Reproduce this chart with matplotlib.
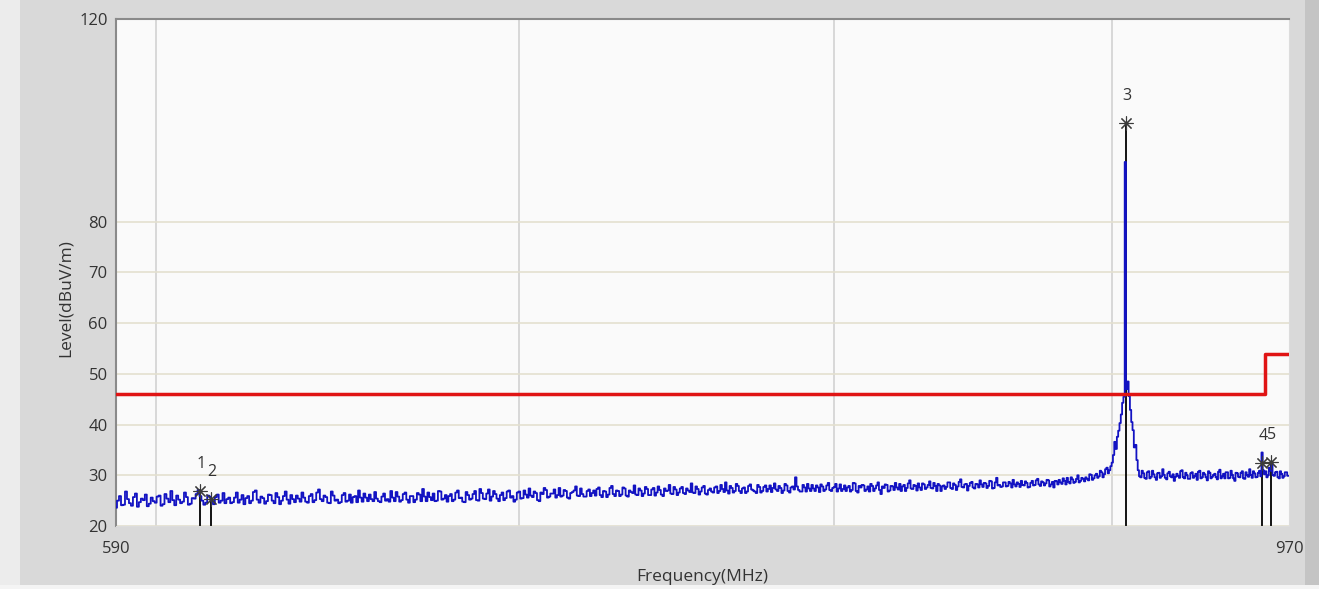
import numpy as np
import matplotlib.pyplot as plt
from matplotlib.ticker import FixedLocator, NullFormatter, FixedFormatter
from matplotlib.patches import Rectangle

plt.rcParams['font.family'] = ['Open Sans', 'DejaVu Sans']

# receiver sweep: readings on whole MHz (590..970) and on the half MHz between them
level = [
    23.6, 25.9, 24.2, 25.3, 24.0, 26.4, 24.7, 25.1, 23.9, 25.6,   # 590
    24.6, 26.0, 24.3, 25.4, 26.9, 24.1, 25.2, 24.8, 25.7, 24.4,   # 600
    25.4, 27.1, 25.0, 24.6, 25.8, 24.3, 26.2, 25.0, 24.5, 25.6,   # 610
    24.7, 26.6, 25.2, 24.3, 25.9, 25.0, 27.0, 24.6, 25.5, 24.9,   # 620
    26.1, 24.5, 25.7, 25.0, 26.8, 24.4, 25.3, 26.0, 24.8, 25.6,   # 630
    24.6, 26.3, 25.1, 27.2, 24.9, 25.7, 24.5, 26.0, 25.2, 24.7,   # 640
    26.5, 25.0, 24.6, 25.9, 27.0, 24.8, 25.6, 26.2, 24.9, 25.4,   # 650
    24.7, 26.4, 25.3, 26.9, 24.9, 25.8, 25.1, 26.6, 24.6, 25.9,   # 660
    25.2, 26.2, 27.3, 24.9, 25.7, 26.4, 25.0, 26.8, 25.4, 24.8,   # 670
    26.3, 25.2, 27.0, 25.6, 24.7, 26.1, 25.4, 26.9, 25.0, 26.5,   # 680
    25.3, 27.2, 25.8, 26.3, 24.9, 26.6, 25.5, 27.0, 25.9, 25.2,   # 690
    26.8, 25.5, 26.2, 27.4, 25.7, 26.5, 24.9, 26.3, 27.1, 25.8,   # 700
    26.4, 25.6, 27.5, 26.0, 26.9, 25.4, 26.7, 27.8, 25.9, 26.3,   # 710
    25.8, 27.2, 26.5, 26.0, 27.6, 25.7, 26.8, 26.2, 27.9, 25.9,   # 720
    26.9, 26.2, 27.4, 25.8, 26.7, 28.0, 26.1, 27.0, 26.4, 27.3,   # 730
    26.1, 27.5, 26.6, 27.1, 25.9, 26.9, 28.1, 26.3, 27.2, 26.6,   # 740
    27.7, 26.3, 27.0, 28.4, 26.5, 27.3, 26.8, 27.9, 26.2, 27.4,   # 750
    26.6, 27.8, 26.9, 27.3, 28.6, 26.4, 27.5, 26.9, 27.9, 26.5,   # 760
    27.6, 26.8, 28.2, 27.0, 26.5, 27.7, 26.9, 28.0, 27.3, 26.7,   # 770
    28.4, 26.9, 27.5, 27.0, 28.0, 26.6, 27.8, 29.6, 27.1, 26.8,   # 780
    27.6, 28.3, 26.9, 27.4, 28.0, 26.7, 27.8, 27.2, 28.5, 26.9,   # 790
    27.7, 26.8, 28.2, 27.3, 26.9, 27.9, 27.1, 28.4, 26.6, 27.6,   # 800
    28.0, 27.2, 26.8, 27.9, 27.4, 28.6, 26.3, 27.5, 28.1, 27.0,   # 810
    27.8, 28.5, 27.2, 26.9, 28.1, 27.5, 29.0, 27.3, 27.9, 28.4,   # 820
    27.1, 28.2, 27.6, 28.8, 27.4, 27.9, 28.3, 26.9, 28.0, 27.7,   # 830
    28.6, 27.3, 28.1, 27.8, 29.2, 27.6, 28.3, 27.9, 28.7, 27.4,   # 840
    28.2, 29.0, 27.7, 28.4, 27.9, 28.8, 27.5, 29.5, 28.1, 27.8,   # 850
    28.6, 27.9, 28.4, 29.1, 27.8, 28.3, 28.9, 28.0, 28.5, 27.7,   # 860
    28.9, 28.1, 29.3, 27.9, 28.6, 28.4, 29.0, 28.2, 27.6, 28.8,   # 870
    29.1, 28.3, 28.9, 29.5, 28.4, 29.2, 28.7, 30.0, 28.9, 29.3,   # 880
    29.6, 29.0, 30.1, 29.4, 30.3, 29.8, 30.6, 30.2, 31.5, 31.0,   # 890
    32.5, 36.6, 37.6, 40.3, 44.3, 91.8, 48.5, 42.9, 38.9, 36.0,   # 900
    31.0, 29.6, 30.4, 29.3, 30.8, 29.7, 30.2, 29.1, 30.5, 29.8,   # 910
    30.1, 29.2, 30.7, 29.6, 28.9, 30.3, 29.5, 31.0, 29.4, 30.0,   # 920
    29.3, 30.6, 29.8, 29.1, 30.9, 29.6, 30.2, 29.0, 30.5, 29.7,   # 930
    30.3, 29.2, 31.1, 29.8, 29.4, 30.6, 29.5, 30.1, 28.9, 30.4,   # 940
    29.6, 30.8, 29.3, 30.0, 31.2, 29.5, 30.4, 29.7, 30.9, 34.5,   # 950
    30.2, 29.6, 31.5, 32.4, 29.9, 30.7, 29.4, 30.3, 29.8, 30.6,   # 960
    29.9,                                                         # 970
]
level_mid = [
    25.0, 24.1, 26.8, 24.5, 25.7, 23.8, 25.4, 26.2, 24.4, 24.9,   # 590.5
    25.8, 24.0, 26.3, 24.7, 25.1, 26.0, 24.5, 26.6, 24.2, 25.5,   # 600.5
    26.3, 25.9, 24.2, 26.0, 25.0, 25.7, 24.6, 26.5, 25.3, 24.5,   # 610.5
    25.6, 24.6, 26.1, 25.5, 24.5, 26.7, 25.2, 25.8, 24.4, 26.2,   # 620.5
    25.0, 26.5, 24.3, 25.9, 25.2, 26.1, 24.7, 25.4, 26.6, 24.8,   # 630.5
    25.9, 24.7, 26.6, 25.3, 26.0, 24.6, 26.8, 25.0, 24.5, 26.1,   # 640.5
    24.8, 26.2, 25.7, 24.7, 25.6, 26.4, 24.9, 25.3, 26.7, 24.9,   # 650.5
    25.8, 25.0, 24.8, 25.6, 26.7, 24.8, 26.3, 25.2, 25.9, 24.7,   # 660.5
    26.5, 24.9, 25.8, 26.6, 25.1, 24.9, 26.9, 25.2, 26.1, 25.9,   # 670.5
    24.9, 26.6, 25.5, 24.8, 26.7, 25.2, 26.3, 25.1, 27.3, 25.4,   # 680.5
    26.4, 25.0, 26.9, 25.4, 26.1, 25.1, 26.8, 25.6, 24.8, 26.6,   # 690.5
    25.4, 27.0, 25.6, 26.0, 26.8, 25.1, 26.6, 27.5, 25.6, 26.4,   # 700.5
    27.2, 26.1, 25.8, 27.1, 25.6, 26.5, 27.0, 26.0, 27.4, 25.8,   # 710.5
    26.9, 25.9, 27.0, 27.3, 26.1, 26.9, 25.7, 27.5, 26.3, 27.0,   # 720.5
    25.9, 27.6, 26.0, 27.0, 26.5, 26.2, 27.4, 25.9, 27.7, 26.1,   # 730.5
    27.2, 26.0, 27.8, 26.2, 27.4, 27.0, 26.4, 27.7, 26.1, 27.4,   # 740.5
    26.5, 27.4, 26.7, 26.6, 27.8, 26.2, 27.6, 26.4, 27.1, 26.8,   # 750.5
    27.6, 26.5, 28.1, 26.7, 27.0, 27.9, 26.6, 28.3, 26.9, 27.4,   # 760.5
    26.5, 27.9, 27.2, 26.8, 28.1, 26.6, 27.7, 26.8, 28.0, 27.5,   # 770.5
    27.2, 27.9, 26.5, 28.3, 26.9, 27.6, 27.2, 27.8, 26.8, 28.1,   # 780.5
    26.8, 27.4, 28.1, 26.9, 27.6, 28.2, 26.9, 28.0, 27.1, 27.5,   # 790.5
    28.3, 27.4, 26.9, 28.0, 27.6, 26.8, 28.5, 26.9, 27.9, 28.1,   # 800.5
    26.9, 27.8, 28.3, 26.9, 28.0, 27.1, 27.8, 28.2, 26.8, 27.9,   # 810.5
    27.1, 27.6, 28.3, 27.8, 26.9, 28.4, 27.4, 28.1, 27.0, 27.6,   # 820.5
    28.4, 27.3, 28.1, 27.5, 28.5, 26.9, 28.0, 27.8, 27.3, 28.6,   # 830.5
    27.5, 28.4, 27.1, 28.7, 27.7, 28.2, 27.0, 28.5, 27.6, 28.3,   # 840.5
    27.6, 28.2, 28.5, 27.5, 28.9, 27.4, 28.6, 28.0, 27.7, 28.6,   # 850.5
    27.8, 28.7, 27.6, 28.2, 28.6, 27.7, 28.1, 28.8, 27.6, 28.5,   # 860.5
    28.0, 29.0, 28.2, 28.8, 28.0, 29.1, 27.8, 28.7, 28.9, 28.2,   # 870.5
    28.6, 29.4, 28.2, 28.7, 29.6, 28.5, 29.3, 28.6, 29.5, 28.8,   # 880.5
    29.3, 30.2, 29.1, 30.0, 29.5, 30.9, 29.6, 31.2, 30.4, 31.8,   # 890.5
    34.0, 35.2, 38.8, 42.0, 45.5, 47.0, 45.6, 40.5, 35.5, 33.0,   # 900.5
    29.8, 30.9, 29.5, 30.6, 29.4, 30.9, 29.6, 30.4, 29.5, 31.2,   # 910.5
    29.5, 30.4, 29.8, 30.2, 29.7, 29.9, 30.8, 29.6, 30.5, 29.3,   # 920.5
    30.4, 29.5, 30.3, 30.7, 29.4, 30.5, 29.6, 30.8, 29.4, 30.1,   # 930.5
    29.6, 30.7, 29.4, 30.3, 30.6, 29.4, 30.9, 29.4, 30.5, 29.7,   # 940.5
    30.5, 29.4, 30.6, 29.7, 30.1, 30.8, 29.6, 30.5, 29.8, 31.0,   # 950.5
    30.8, 30.0, 30.9, 30.0, 30.6, 29.6, 30.8, 29.5, 30.6, 29.9,   # 960.5
]
freq = np.arange(590, 970.25, 0.5)
trace = np.empty(len(freq))
trace[0::2] = level
trace[1::2] = level_mid

# limit line
limit_freq = [590, 960, 970]
limit_level = [46.0, 54.0, 54.0]

# markers
mk_label = ['1', '2', '3', '4', '5']
mk_freq = [611.4, 614.3, 905.1, 959.0, 962.5]
mk_level = [27.0, 25.4, 99.5, 32.4, 32.7]

fig = plt.figure(figsize=(13.19, 5.89), dpi=100, facecolor='#d9d9d9')
fig.patches.append(Rectangle((0, 0), 20 / 1319, 1, transform=fig.transFigure,
                             facecolor='#ececec', edgecolor='none', zorder=-1))
fig.patches.append(Rectangle((1305 / 1319, 0), 14 / 1319, 1, transform=fig.transFigure,
                             facecolor='#c4c4c4', edgecolor='none', zorder=-1))
fig.patches.append(Rectangle((0, 0), 1, 4 / 589, transform=fig.transFigure,
                             facecolor='#f4f4f4', edgecolor='none', zorder=-1))

ax = fig.add_axes([116 / 1319, 1 - 526 / 589, 1173 / 1319, 507 / 589])
ax.set_facecolor('#fafafa')

ax.vlines(mk_freq, 20, mk_level, color='black', lw=1.3, zorder=2)
ax.plot(freq, trace, color='#1212c2', lw=1.3, drawstyle='steps-mid', zorder=3)
ax.plot(limit_freq, limit_level, color='#e01414', lw=2.5, drawstyle='steps-post', zorder=4)
ax.plot(mk_freq, mk_level, ls='none', marker=(8, 2, 0), ms=10, mew=0.8,
        color='#3a3a3a', zorder=5)
for lab, f, v in zip(mk_label, mk_freq, mk_level):
    ax.annotate(lab, (f, v), xytext=(1, 27), textcoords='offset pixels',
                ha='center', va='center', fontsize=11.5, color='#333333')

ax.set_xscale('log')
ax.set_xlim(590, 970)
ax.set_ylim(20, 120)
ax.xaxis.set_major_locator(FixedLocator([590, 970]))
ax.xaxis.set_major_formatter(FixedFormatter(['590', '970']))
ax.xaxis.set_minor_locator(FixedLocator([600, 700, 800, 900]))
ax.xaxis.set_minor_formatter(NullFormatter())
ax.set_yticks([20, 30, 40, 50, 60, 70, 80, 120])

ax.grid(True, which='minor', axis='x', color='#d2d2d2', lw=1.2)
ax.grid(True, which='major', axis='y', color='#e4e0cf', lw=1.2)
ax.set_axisbelow(True)

ax.tick_params(axis='both', which='both', length=0, labelsize=12, colors='#333333')
ax.tick_params(axis='x', pad=11)
ax.tick_params(axis='y', pad=6)

for side in ['left', 'top']:
    ax.spines[side].set_color('#8a8a8a')
    ax.spines[side].set_linewidth(1.5)
for side in ['right', 'bottom']:
    ax.spines[side].set_color('#dcdcdc')

ax.set_xlabel('Frequency(MHz)', fontsize=12.5, color='#333333', va='center')
ax.xaxis.set_label_coords(0.5, -0.1)
ax.set_ylabel('Level(dBuV/m)', fontsize=12.5, color='#333333')
ax.yaxis.set_label_coords(-0.036, 0.45)

plt.savefig('out.png', dpi=100, facecolor=fig.get_facecolor())
